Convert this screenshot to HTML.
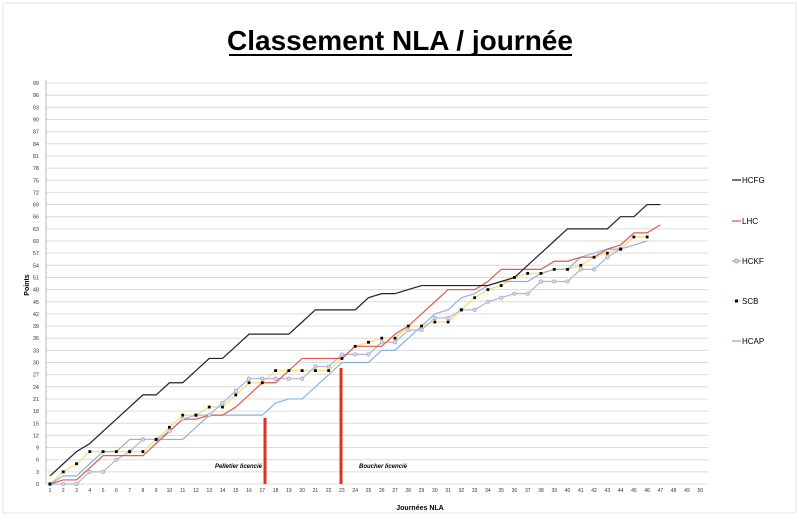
<!DOCTYPE html>
<html><head><meta charset="utf-8"><style>
body{margin:0;background:#fff;}
svg{display:block;font-family:"Liberation Sans",sans-serif;}
</style></head><body>
<svg id="s" width="799" height="527" xmlns="http://www.w3.org/2000/svg">
<rect x="3" y="3" width="793" height="510" fill="#fff" stroke="#e4e4e4"/>
<text x="400" y="50" font-size="28" font-weight="bold" text-anchor="middle">Classement NLA / journée</text>
<line x1="229" y1="55" x2="572" y2="55" stroke="#000" stroke-width="2"/>
<g id="grid"></g>
<g id="series"></g>
<rect x="263.5" y="418" width="3" height="66" fill="#e03020"/>
<rect x="339.5" y="368" width="3" height="116" fill="#e03020"/>
<text x="262" y="468" font-size="6" font-weight="bold" font-style="italic" text-anchor="end">Pelletier licencié</text>
<text x="359" y="468" font-size="6" font-weight="bold" font-style="italic">Boucher licencié</text>
<text x="29" y="285" font-size="7" font-weight="bold" transform="rotate(-90 29 285)" text-anchor="middle">Points</text>
<text x="420" y="510" font-size="7" font-weight="bold" text-anchor="middle">Journées NLA</text>
<g font-size="8">
<line x1="732" y1="180" x2="741" y2="180" stroke="#222" stroke-width="1.3"/><text x="742" y="183">HCFG</text>
<line x1="732" y1="221" x2="741" y2="221" stroke="#e05a50" stroke-width="1.3"/><text x="742" y="224">LHC</text>
<line x1="732" y1="261" x2="741" y2="261" stroke="#b0a8c8" stroke-width="1.3"/><circle cx="736.5" cy="261" r="2" fill="#ddd" stroke="#a8a0c0"/><text x="742" y="264">HCKF</text>
<line x1="732" y1="301" x2="741" y2="301" stroke="#f6e38a" stroke-width="1.3"/><rect x="735" y="299.5" width="3" height="3" fill="#000"/><text x="742" y="304">SCB</text>
<line x1="732" y1="341" x2="741" y2="341" stroke="#8ab4e0" stroke-width="1.3"/><text x="742" y="344">HCAP</text>
</g>
</svg>
<script>
function X(i){return 50+(i-1)*13.27;}
function Y(v){return 484-v*4.05;}
var g=document.getElementById('grid'),h='';
for(var v=0;v<=99;v+=3){var y=Y(v);h+='<line x1="46" y1="'+y+'" x2="708" y2="'+y+'" stroke="#dcdcdc" stroke-width="1"/>';
h+='<text x="39" y="'+(y+2)+'" font-size="5.5" text-anchor="end" fill="#333">'+v+'</text>';}
h+='<line x1="46" y1="80" x2="46" y2="484" stroke="#bbb"/>';
for(var i=1;i<=50;i++){h+='<text x="'+X(i)+'" y="492" font-size="5" text-anchor="middle" fill="#333">'+i+'</text>';}
g.innerHTML=h;
var HCFG=[2,5,8,10,13,16,19,22,22,25,25,28,31,31,34,37,37,37,37,40,43,43,43,43,46,47,47,48,49,49,49,49,49,49,50,51,54,57,60,63,63,63,63,66,66,69,69];
var LHC=[0,1,1,4,7,7,7,7,10,13,16,16,17,17,19,22,25,25,28,31,31,31,31,34,34,34,37,39,42,45,48,48,48,50,53,53,53,53,55,55,56,56,58,59,62,62,64];
var SCB=[0,3,5,8,8,8,8,8,11,14,17,17,19,19,22,25,25,28,28,28,28,28,31,34,35,36,36,39,39,40,40,43,46,48,49,51,52,52,53,53,54,56,57,58,61,61];
var HCKF=[0,0,0,3,3,6,8,11,11,13,16,17,17,20,23,26,26,26,26,26,29,29,32,32,32,35,35,38,38,41,41,43,43,45,46,47,47,50,50,50,53,53,56,58];
var HCAP=[0,2,2,5,8,8,11,11,11,11,11,14,17,17,17,17,17,20,21,21,24,27,30,30,30,33,33,36,39,42,43,46,47,49,50,50,50,52,53,53,56,57,58,58,59,60];
function poly(d,c,w){return '<polyline fill="none" stroke="'+c+'" stroke-width="'+w+'" points="'+d.map(function(v,i){return X(i+1)+','+Y(v)}).join(' ')+'"/>';}
var s='';
s+=poly(SCB,'#f6e38a',1.6);
s+=poly(HCAP,'#8ab4e0',1.2);
s+=poly(HCKF,'#a8b8dc',1.2);
s+=poly(LHC,'#e05a50',1.2);
s+=poly(HCFG,'#222',1.2);
HCKF.forEach(function(v,i){s+='<circle cx="'+X(i+1)+'" cy="'+Y(v)+'" r="1.7" fill="#ddd" stroke="#a8a0c0" stroke-width="0.7"/>';});
SCB.forEach(function(v,i){s+='<rect x="'+(X(i+1)-1.4)+'" y="'+(Y(v)-1.4)+'" width="2.8" height="2.8" fill="#000"/>';});
document.getElementById('series').innerHTML=s;
</script>
</body></html>
